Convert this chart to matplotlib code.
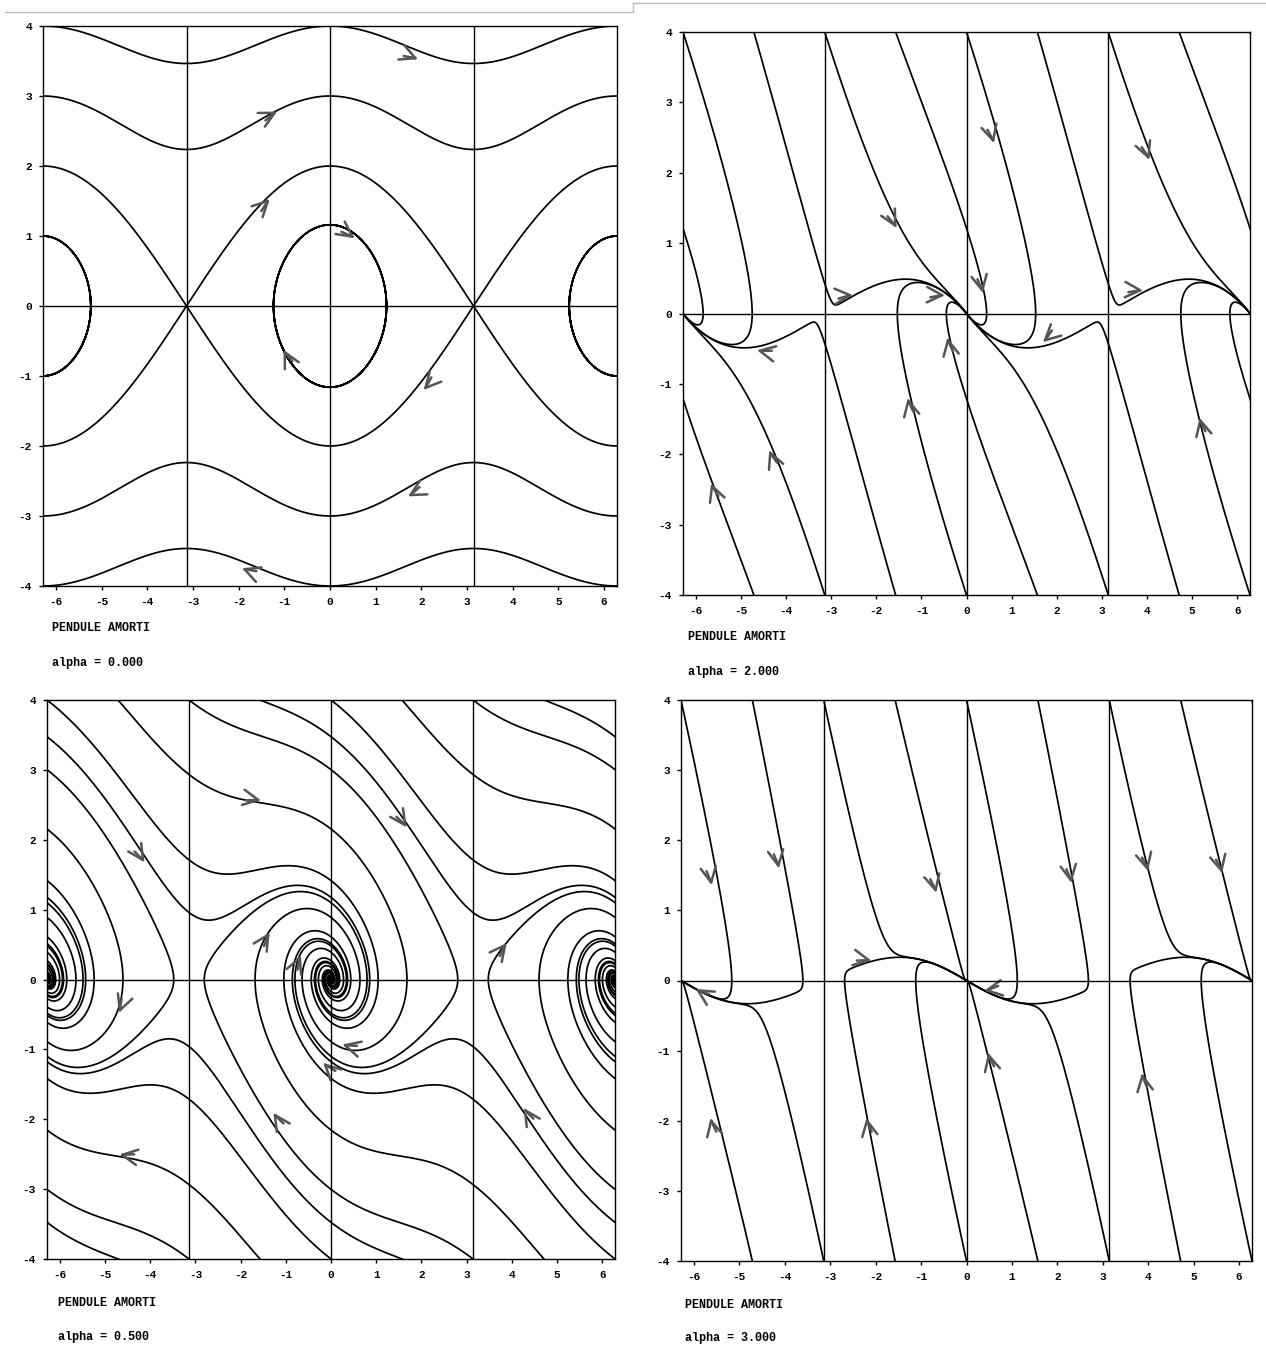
import math
import numpy as np
import matplotlib
matplotlib.use("Agg")
import matplotlib.pyplot as plt

W, H = 1266, 1348

plt.rcParams['font.family'] = ['Liberation Mono', 'DejaVu Sans Mono']
plt.rcParams['font.weight'] = 'bold'
plt.rcParams['axes.unicode_minus'] = False

# damped pendulum  theta' = omega ,  omega' = -sin(theta) - alpha*omega
alphas = [0.0, 2.0, 0.5, 3.0]
alpha_labels = ["alpha = 0.000", "alpha = 2.000", "alpha = 0.500", "alpha = 3.000"]

# starting points (theta, omega) of the trajectories
seeds_a0 = [(-6.283, 4.0), (-6.283, 3.0), (-6.283, 2.0), (-6.283, 1.0),
            (-6.283, -2.0), (-6.283, -3.0), (-6.283, -4.0),
            (0.0, 2.0), (0.0, -2.0), (0.0, 1.16),
            (6.283, 1.0), (6.283, 2.0), (6.283, -2.0)]
# damped cases: curves start on the top / bottom border, one period (2 pi) listed
seeds_a2 = [(-6.283, 4.0), (-4.712, 4.0), (-3.142, 4.0), (-1.571, 4.0),
            (1.571, -4.0), (3.142, -4.0), (4.712, -4.0), (6.283, -4.0)]
seeds_a05 = [(-6.283, 4.0), (-4.712, 4.0), (-3.142, 4.0), (-1.571, 4.0),
             (1.571, -4.0), (3.142, -4.0), (4.712, -4.0), (6.283, -4.0)]
seeds_a3 = [(-6.283, 4.0), (-4.712, 4.0), (-3.142, 4.0), (-1.571, 4.0),
            (1.571, -4.0), (3.142, -4.0), (4.712, -4.0), (6.283, -4.0)]
all_seeds = [seeds_a0, seeds_a2, seeds_a05, seeds_a3]
periodic = [False, True, True, True]

# hand drawn arrow heads (theta, omega)
arrows_a0 = [(1.87, 3.54), (-1.21, 2.76), (-1.36, 1.50), (0.49, 0.99), (-0.99, -0.66),
             (2.09, -1.17), (1.76, -2.70), (-1.87, -3.76)]
arrows_a2 = [(-1.58, 1.25), (0.59, 2.46), (4.03, 2.22), (-2.58, 0.26), (-0.54, 0.26),
             (0.35, 0.33), (3.85, 0.33), (-4.58, -0.53), (-0.41, -0.38), (1.74, -0.38),
             (-1.29, -1.24), (-4.35, -1.98), (-5.64, -2.45), (5.18, -1.52)]
arrows_a05 = [(-1.61, 2.57), (-4.16, 1.71), (1.64, 2.21), (-1.39, 0.64), (-0.69, 0.31),
              (3.85, 0.49), (-4.67, -0.44), (0.31, -0.94), (-0.13, -1.22), (-1.24, -1.94),
              (4.29, -1.87), (-4.62, -2.51)]
arrows_a3 = [(-5.62, 1.40), (-4.14, 1.64), (-0.68, 1.29), (2.30, 1.43), (3.98, 1.60),
             (5.61, 1.57), (-5.91, -0.14), (-2.15, 0.29), (0.45, -0.14), (0.49, -1.07),
             (3.87, -1.36), (-5.62, -2.0), (-2.19, -2.0)]
all_arrows = [arrows_a0, arrows_a2, arrows_a05, arrows_a3]

# axes boxes in pixels: left, top, right, bottom
boxes = [(43, 26, 617, 586), (683, 32, 1250, 595), (47, 700, 615, 1259), (681, 700, 1252, 1261)]
title_pos = [(52, 628), (688, 637), (58, 1303), (685, 1305)]
alpha_pos = [(52, 663), (688, 672), (58, 1337), (685, 1338)]

xticks = [-6, -5, -4, -3, -2, -1, 0, 1, 2, 3, 4, 5, 6]
yticks = [-4, -3, -2, -1, 0, 1, 2, 3, 4]


def field(x, y, a):
    return y, -math.sin(x) - a * y


def integrate(x0, y0, a, sign, tmax=40.0, dt=0.01):
    xs, ys = [x0], [y0]
    x, y = x0, y0
    h = sign * dt
    for _ in range(int(tmax / dt)):
        k1 = field(x, y, a)
        k2 = field(x + h / 2 * k1[0], y + h / 2 * k1[1], a)
        k3 = field(x + h / 2 * k2[0], y + h / 2 * k2[1], a)
        k4 = field(x + h * k3[0], y + h * k3[1], a)
        x += h / 6 * (k1[0] + 2 * k2[0] + 2 * k3[0] + k4[0])
        y += h / 6 * (k1[1] + 2 * k2[1] + 2 * k3[1] + k4[1])
        xs.append(x)
        ys.append(y)
        if abs(y) > 4.3 or abs(x) > 13.0:
            break
        k = round(x / math.pi)
        if math.hypot(x - k * math.pi, y) < 0.004:
            break
    return xs, ys


fig = plt.figure(figsize=(W / 100, H / 100), dpi=100)

# edges of the scanned pages
fig.add_artist(plt.Line2D([5 / W, 633 / W], [1 - 12 / H, 1 - 12 / H], color='#bbbbbb', lw=1))
fig.add_artist(plt.Line2D([633 / W, 633 / W], [1 - 12 / H, 1 - 3 / H], color='#bbbbbb', lw=1))
fig.add_artist(plt.Line2D([633 / W, 1 - 1 / W], [1 - 3 / H, 1 - 3 / H], color='#bbbbbb', lw=1))

for i in range(4):
    l, t, r, b = boxes[i]
    ax = fig.add_axes([l / W, 1 - b / H, (r - l) / W, (b - t) / H])
    a = alphas[i]
    ax.set_xlim(-2 * np.pi, 2 * np.pi)
    ax.set_ylim(-4, 4)
    sx = (r - l) / (4 * np.pi)
    sy = (b - t) / 8.0

    tmax = 12.0 if a == 0 else 40.0
    shifts = [-4 * np.pi, -2 * np.pi, 0.0, 2 * np.pi, 4 * np.pi] if periodic[i] else [0.0]
    for x0, y0 in all_seeds[i]:
        bx, by = integrate(x0, y0, a, -1, tmax)
        fx, fy = integrate(x0, y0, a, 1, tmax)
        xs = np.array(bx[::-1] + fx[1:])
        ys = np.array(by[::-1] + fy[1:])
        for s in shifts:
            ax.plot(xs + s, ys, color='black', lw=1.25, solid_capstyle='round')

    # hand drawn arrow heads
    for x, y in all_arrows[i]:
        dx, dy = field(x, y, a)
        dx, dy = dx * sx, dy * sy
        n = math.hypot(dx, dy)
        ux, uy = dx / n, dy / n
        for ang, ln in ((math.radians(27), 17), (-math.radians(27), 17), (math.radians(12), 12)):
            wx = -(ux * math.cos(ang) - uy * math.sin(ang))
            wy = -(ux * math.sin(ang) + uy * math.cos(ang))
            ax.plot([x, x + wx * ln / sx], [y, y + wy * ln / sy], color='#555555', lw=1.8,
                    solid_capstyle='round')

    for xv in (-np.pi, 0, np.pi):
        ax.axvline(xv, color='black', lw=1.0)
    ax.axhline(0, color='black', lw=1.0)

    ax.set_xticks(xticks)
    ax.set_yticks(yticks)
    ax.tick_params(direction='out', length=3, width=1, labelsize=8, pad=5)
    for sp in ax.spines.values():
        sp.set_linewidth(1.0)

    fig.text(title_pos[i][0] / W, 1 - title_pos[i][1] / H, "PENDULE AMORTI",
             fontsize=8.5, fontweight='bold', va='center', ha='left')
    fig.text(alpha_pos[i][0] / W, 1 - alpha_pos[i][1] / H, alpha_labels[i],
             fontsize=8.5, fontweight='bold', va='center', ha='left')

fig.savefig("out.png", dpi=100)
